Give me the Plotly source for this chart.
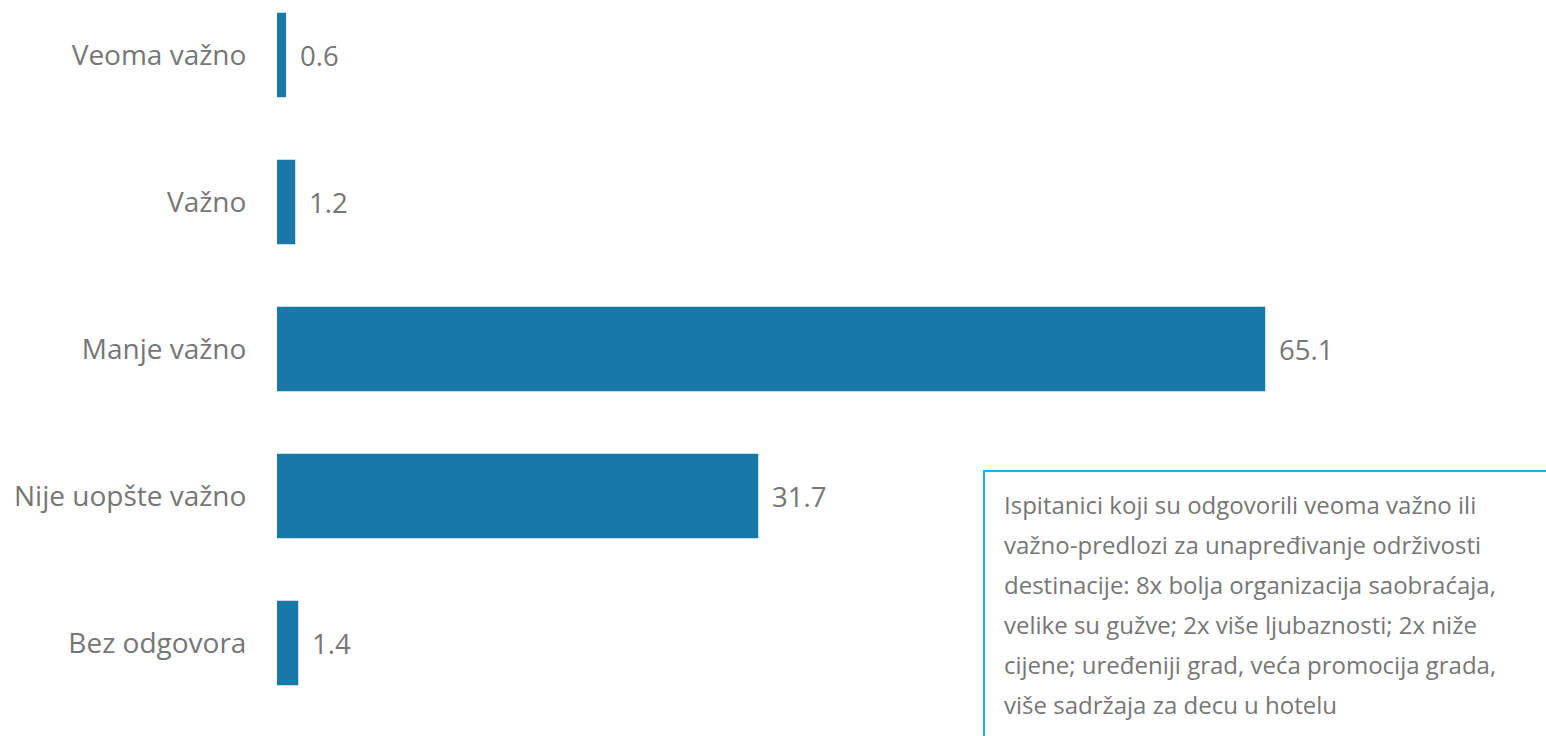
import plotly.graph_objects as go

categories = ["Veoma važno", "Važno", "Manje važno", "Nije uopšte važno", "Bez odgovora"]
values = [0.6, 1.2, 65.1, 31.7, 1.4]
value_labels = ["0.6", "1.2", "65.1", "31.7", "1.4"]
note_lines = [
    "Ispitanici koji su odgovorili veoma važno ili",
    "važno-predlozi za unapređivanje održivosti",
    "destinacije: 8x bolja organizacija saobraćaja,",
    "velike su gužve; 2x više ljubaznosti; 2x niže",
    "cijene; uređeniji grad, veća promocija grada,",
    "više sadržaja za decu u hotelu",
]

W, H = 1546, 736
FONT = "Open Sans"
GRAY = "#767676"
L = 277

fig = go.Figure(go.Bar(
    x=values, y=categories, orientation="h",
    marker=dict(color="#1878a8", line=dict(width=0)),
    width=0.575, hoverinfo="skip",
))

for v, t, c in zip(values, value_labels, categories):
    fig.add_annotation(x=v, y=c, xref="x", yref="y", text=t, showarrow=False,
                       xanchor="left", yanchor="middle", xshift=12,
                       font=dict(family=FONT, size=27.5, color=GRAY))

# note box
fig.add_shape(type="rect", xref="paper", yref="paper",
              x0=(984 - L) / (W - L), x1=1.05, y0=-0.05, y1=1 - 471 / H,
              line=dict(color="#1eb0ea", width=2), fillcolor="rgba(0,0,0,0)", layer="above")
for i, ln in enumerate(note_lines):
    py = 504 + 40 * i
    fig.add_annotation(xref="paper", yref="paper", x=(1002 - L) / (W - L), y=1 - py / H,
                       text=ln, showarrow=False, xanchor="left", yanchor="middle",
                       font=dict(family=FONT, size=24, color=GRAY))

px_per_cat = 147.0
top_center = 55.0
fig.update_layout(
    width=W, height=H,
    margin=dict(l=L, r=0, t=0, b=0),
    paper_bgcolor="white", plot_bgcolor="white",
    showlegend=False,
    xaxis=dict(range=[0, (W - L) / 15.18], visible=False, fixedrange=True),
    yaxis=dict(
        categoryorder="array", categoryarray=categories,
        range=[(H - top_center) / px_per_cat, -top_center / px_per_cat],
        showgrid=False, zeroline=False, showline=False,
        ticks="outside", ticklen=24, tickcolor="rgba(0,0,0,0)",
        tickfont=dict(family=FONT, size=28, color=GRAY),
    ),
)

fig.write_html("out.html", config={"displayModeBar": False},
               post_script="document.body.style.margin='0';document.body.style.overflow='hidden';")
